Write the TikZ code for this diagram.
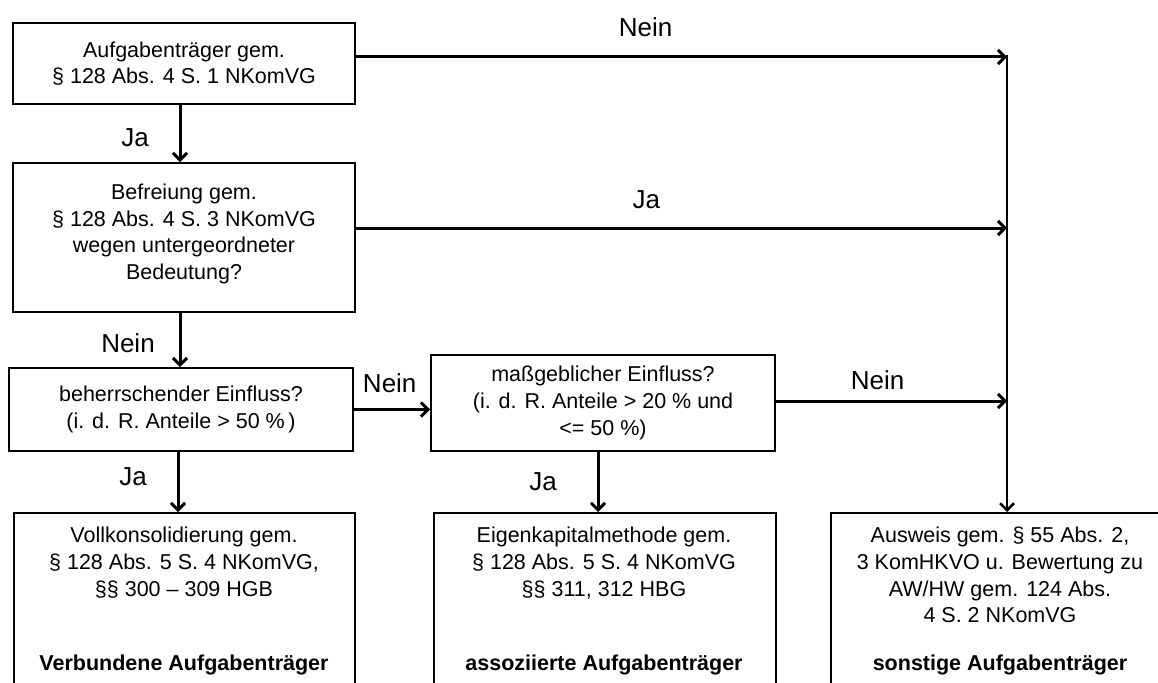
\documentclass[tikz,border=0pt]{standalone}
\usepackage{fontspec}
\setmainfont{Liberation Sans}
\usetikzlibrary{arrows.meta,calc}
\newcommand\mybody{\fontsize{21.5}{26.7}\selectfont}
\newcommand\mylbl{\fontsize{26}{30}\selectfont}
\begin{document}
\begin{tikzpicture}[x=1pt,y=-1pt,
  box/.style={draw=black, line width=1.8pt, rectangle, inner sep=0pt, align=center, font=\mybody},
  txt/.style={inner sep=0pt, align=center, font=\mybody},
  boldtxt/.style={inner sep=0pt, font=\mybody\bfseries},
  lbl/.style={inner sep=0pt, font=\mylbl},
  arr/.style={line width=3pt, -{Straight Barb[length=7pt,width=14pt]}}]
\useasboundingbox (0,0) rectangle (1158,682);
\clip (0,0) rectangle (1158,682);
\fill[white] (0,0) rectangle (1158,682);

% decision boxes
\node[box, minimum width=342pt, minimum height=81pt] (A) at (184,63.5)
  {Aufgabenträger gem.\\§ 128 Abs. 4 S. 1 NKomVG};
\node[box, minimum width=342pt, minimum height=149pt] (B) at (184,237.5) {};
\node[txt] (Bt) at (184,234)
  {Befreiung gem.\\§ 128 Abs. 4 S. 3 NKomVG\\wegen untergeordneter\\Bedeutung?};
\node[box, minimum width=344pt, minimum height=83pt] (C) at (181,409.5)
  {beherrschender Einfluss?\\(i. d. R. Anteile > 50 \%\,)};
\node[box, minimum width=344pt, minimum height=96pt] (D) at (603,403)
  {maßgeblicher Einfluss?\\(i. d. R. Anteile > 20 \% und\\<= 50 \%)};

% result boxes (cut off at the lower edge)
\node[box, minimum width=341pt, minimum height=220pt, anchor=north west] (E) at (13,512) {};
\node[box, minimum width=342pt, minimum height=220pt, anchor=north west] (F) at (433,512) {};
\node[box, minimum width=350pt, minimum height=220pt, anchor=north west] (G) at (830,512) {};

\node[txt, anchor=north] (Et) at (184,527)
  {Vollkonsolidierung gem.\\§ 128 Abs. 5 S. 4 NKomVG,\\§§ 300 – 309 HGB};
\node[boldtxt, anchor=base] (Eb) at (184,670) {Verbundene Aufgabenträger};
\node[txt, anchor=north] (Ft) at (604,527)
  {Eigenkapitalmethode gem.\\§ 128 Abs. 5 S. 4 NKomVG\\§§ 311, 312 HBG};
\node[boldtxt, anchor=base] (Fb) at (604,670) {assoziierte Aufgabenträger};
\node[txt, anchor=north] (Gt) at (1000,527)
  {Ausweis gem. § 55 Abs. 2,\\3 KomHKVO u. Bewertung zu\\AW/HW gem. 124 Abs.\\4 S. 2 NKomVG};
\node[boldtxt, anchor=base] (Gb) at (1000,670) {sonstige Aufgabenträger};

% collector line
\coordinate (jt) at (1007,55);
\coordinate (j1) at (1007,57);
\coordinate (j2) at (1007,228);

\draw[arr, line width=2.5pt] (jt) -- (jt |- G.north);

\draw[arr] (A.east |- j1) -- node[lbl, pos=0.445, yshift=30pt] {Nein} (j1);
\draw[arr] (B.east |- j2) -- node[lbl, pos=0.446, yshift=28pt] {Ja} (j2);

\draw[arr] ([xshift=-4pt]A.south) -- node[lbl, pos=0.58, xshift=-45pt] {Ja} ([xshift=-4pt]A.south |- B.north);
\draw[arr] ([xshift=-4pt]B.south) -- node[lbl, pos=0.55, xshift=-52pt] {Nein} ([xshift=-4pt]B.south |- C.north);
\draw[arr] ([xshift=-3pt]C.south) -- node[lbl, pos=0.41, xshift=-45pt] {Ja} ([xshift=-3pt]C.south |- E.north);
\draw[arr] ([xshift=-5pt]D.south) -- node[lbl, pos=0.5, xshift=-55pt] {Ja} ([xshift=-5pt]D.south |- F.north);

\draw[arr] (C.east) -- node[lbl, pos=0.47, yshift=26pt] {Nein} (C.east -| D.west);
\draw[arr] ([yshift=2pt]D.east) -- node[lbl, pos=0.44, yshift=21pt] {Nein} ([yshift=2pt]D.east -| jt);
\end{tikzpicture}
\end{document}
